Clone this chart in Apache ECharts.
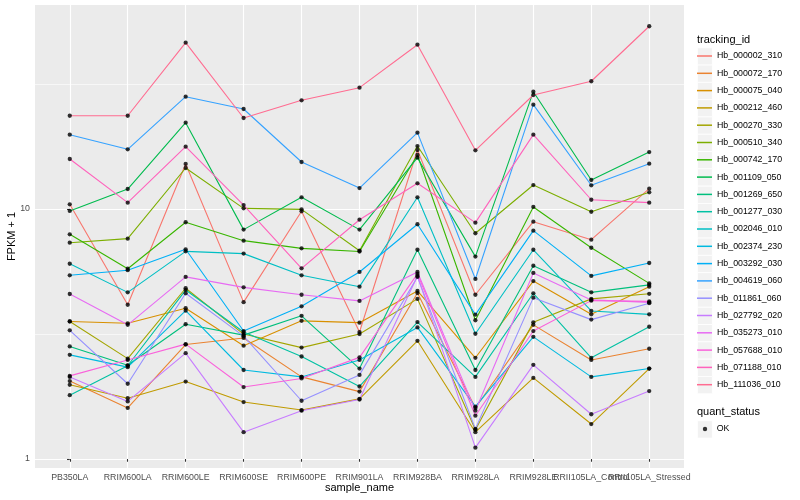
<!DOCTYPE html>
<html><head><meta charset="utf-8">
<script src="https://cdn.jsdelivr.net/npm/echarts@6/dist/echarts.min.js"></script>
<style>html,body{margin:0;padding:0;background:#fff}#c{width:800px;height:500px}</style>
</head><body><div id="c"></div>
<script>
// ---- data ----
const sampleNames = ['PB350LA','RRIM600LA','RRIM600LE','RRIM600SE','RRIM600PE','RRIM901LA','RRIM928BA','RRIM928LA','RRIM928LE','RRII105LA_Control','RRII105LA_Stressed'];
const yTickValues = [1, 10];
const yMinorValues = [3.1623, 31.623];
const trackingIds = ['Hb_000002_310','Hb_000072_170','Hb_000075_040','Hb_000212_460','Hb_000270_330','Hb_000510_340','Hb_000742_170','Hb_001109_050','Hb_001269_650','Hb_001277_030','Hb_002046_010','Hb_002374_230','Hb_003292_030','Hb_004619_060','Hb_011861_060','Hb_027792_020','Hb_035273_010','Hb_057688_010','Hb_071188_010','Hb_111036_010'];
const quantStatus = ['OK'];
// FPKM + 1 per sample (order of sampleNames)
const hb_000002_310 = [10.44, 4.14, 15.14, 4.24, 9.79, 3.22, 17.22, 4.54, 8.90, 7.54, 12.06];
const hb_000072_170 = [2.05, 1.60, 2.87, 3.05, 2.13, 1.86, 4.61, 1.60, 3.44, 2.49, 2.76];
const hb_000075_040 = [3.55, 3.49, 4.01, 2.84, 3.57, 3.51, 4.70, 2.54, 5.15, 3.79, 4.89];
const hb_000212_460 = [1.98, 1.75, 2.04, 1.69, 1.57, 1.74, 2.97, 1.28, 2.11, 1.38, 2.30];
const hb_000270_330 = [3.55, 2.52, 4.82, 3.16, 2.79, 3.16, 4.37, 1.31, 3.52, 4.37, 4.58];
const hb_000510_340 = [7.33, 7.61, 14.59, 10.06, 9.97, 6.81, 17.86, 8.00, 12.47, 9.75, 11.66];
const hb_000742_170 = [7.92, 5.77, 8.85, 7.47, 6.96, 6.76, 16.44, 3.59, 10.19, 7.00, 5.04];
const hb_001109_050 = [9.82, 12.02, 22.14, 8.27, 11.14, 8.27, 16.04, 6.45, 29.46, 13.06, 16.90];
const hb_001269_650 = [2.82, 2.37, 3.46, 3.13, 3.74, 2.30, 6.87, 2.27, 5.93, 4.64, 4.97];
const hb_001277_030 = [1.80, 2.36, 4.74, 3.22, 2.57, 1.95, 3.53, 2.13, 4.60, 2.54, 3.38];
const hb_002046_010 = [6.04, 4.64, 6.77, 6.63, 5.43, 4.89, 11.14, 3.17, 6.87, 3.91, 3.79];
const hb_002374_230 = [2.61, 2.33, 3.92, 2.27, 2.13, 2.49, 3.36, 1.62, 3.08, 2.13, 2.30];
const hb_003292_030 = [5.43, 5.69, 6.90, 3.25, 4.08, 5.60, 8.69, 3.78, 8.19, 5.40, 6.08];
const hb_004619_060 = [19.83, 17.33, 28.13, 25.12, 15.42, 12.13, 20.20, 5.25, 26.14, 12.44, 15.18];
const hb_011861_060 = [3.27, 2.00, 4.60, 3.10, 1.71, 2.17, 5.35, 1.32, 4.42, 3.61, 4.20];
const hb_027792_020 = [2.13, 1.70, 2.65, 1.28, 1.56, 1.73, 5.40, 1.11, 2.38, 1.51, 1.87];
const hb_035273_010 = [4.57, 3.44, 5.35, 4.86, 4.54, 4.29, 5.60, 1.56, 5.55, 4.33, 4.23];
const hb_057688_010 = [2.15, 2.49, 2.88, 1.94, 2.10, 2.55, 5.50, 1.49, 3.25, 4.30, 4.27];
const hb_071188_010 = [15.85, 10.60, 17.75, 10.37, 5.79, 9.06, 12.67, 8.82, 19.83, 10.89, 10.60];
const hb_111036_010 = [23.61, 23.61, 46.26, 23.12, 27.21, 30.57, 45.42, 17.17, 28.58, 32.43, 53.82];

// ---- styling ----
const palette = ['#F8766D','#EA8331','#D89000','#C09B00','#A3A500','#7CAE00','#39B600','#00BB4E','#00BF7D','#00C1A3','#00BFC4','#00BAE0','#00B0F6','#35A2FF','#9590FF','#C77CFF','#E76BF3','#FA62DB','#FF62BC','#FF6C91'];
const FONT = '"Liberation Sans", Arial, Helvetica, sans-serif';

const seriesValues = [hb_000002_310, hb_000072_170, hb_000075_040, hb_000212_460, hb_000270_330, hb_000510_340, hb_000742_170, hb_001109_050, hb_001269_650, hb_001277_030, hb_002046_010, hb_002374_230, hb_003292_030, hb_004619_060, hb_011861_060, hb_027792_020, hb_035273_010, hb_057688_010, hb_071188_010, hb_111036_010];

const log10 = v => Math.log10(v);
const catIdx = sampleNames.map((_, j) => j);
// labels split over two overlaid axes so that overlapping labels are all kept (as in the reference)
const labelIdxA = catIdx.filter(j => j !== 9);
const labelIdxB = [9];

const lineSeries = trackingIds.map((id, i) => ({
  name: id, type: 'line', animation: false, silent: true,
  showSymbol: false, symbol: 'none',
  data: seriesValues[i].map((v, j) => [j, log10(v)]),
  lineStyle: { width: 1.1, color: palette[i] },
  itemStyle: { color: palette[i] },
  emphasis: { disabled: true }, z: 2
}));
const pointData = [];
seriesValues.forEach(arr => arr.forEach((v, j) => pointData.push([j, log10(v)])));
const pointSeries = {
  name: quantStatus[0], type: 'scatter', animation: false, silent: true,
  symbol: 'circle', symbolSize: 4.3, itemStyle: { color: '#000000' },
  data: pointData, z: 3
};

const yMin = -0.036, yMax = 1.816;
const keyTop = 47.35, keyH = 17.3, keyW = 15, keyLeft = 697;
const graphics = [];
trackingIds.forEach((_, i) => graphics.push({
  type: 'rect', left: keyLeft, top: keyTop + i * keyH, z: -1,
  shape: { width: keyW, height: keyH }, style: { fill: '#F2F2F2', stroke: '#FFFFFF', lineWidth: 0.8 }
}));
graphics.push({ type: 'rect', left: keyLeft, top: 420.35, z: -1, shape: { width: keyW, height: keyH }, style: { fill: '#F2F2F2', stroke: '#FFFFFF', lineWidth: 0.8 } });
graphics.push({ type: 'text', x: 697, y: 40.4, style: { text: 'tracking_id', font: '11px ' + FONT, fill: '#000', textVerticalAlign: 'middle', verticalAlign: 'middle' } });
graphics.push({ type: 'text', x: 697, y: 411.5, style: { text: 'quant_status', font: '11px ' + FONT, fill: '#000', textVerticalAlign: 'middle', verticalAlign: 'middle' } });

const xLabelStyle = { margin: 5, color: '#4D4D4D', fontSize: 8.8, fontFamily: FONT,
  hideOverlap: false, showMinLabel: true, showMaxLabel: true,
  formatter: v => sampleNames[Math.round(v)] };

const chart = echarts.init(document.getElementById('c'), null, { renderer: 'canvas' });
chart.setOption({
  animation: false,
  backgroundColor: '#FFFFFF',
  textStyle: { fontFamily: FONT },
  grid: { left: 35, top: 5, width: 649, height: 463, show: true, backgroundColor: '#EBEBEB', borderWidth: 0,
    containLabel: false, outerBoundsMode: 'none' },
  xAxis: [{
    type: 'value', min: -0.6, max: 10.6, position: 'bottom',
    name: 'sample_name', nameLocation: 'middle', nameGap: 14.5, nameMoveOverlap: false,
    nameTextStyle: { color: '#000', fontSize: 11, fontFamily: FONT, verticalAlign: 'top' },
    axisLine: { show: false },
    axisTick: { show: true, customValues: catIdx, length: 2.75, lineStyle: { color: '#333333', width: 1.07 } },
    axisLabel: Object.assign({ customValues: labelIdxA }, xLabelStyle),
    splitLine: { show: true, lineStyle: { color: '#FFFFFF', width: 1.15 } }
  }, {
    type: 'value', min: -0.6, max: 10.6, position: 'bottom', offset: 0,
    axisLine: { show: false },
    axisTick: { show: false, customValues: labelIdxB },
    axisLabel: Object.assign({ customValues: labelIdxB }, xLabelStyle),
    splitLine: { show: false }
  }],
  yAxis: [{
    type: 'value', min: yMin, max: yMax,
    name: 'FPKM + 1', nameLocation: 'middle', nameGap: 18, nameRotate: 90, nameMoveOverlap: false,
    nameTextStyle: { color: '#000', fontSize: 11, fontFamily: FONT },
    axisLine: { show: false },
    axisTick: { show: true, customValues: yTickValues.map(log10), length: 2.75, lineStyle: { color: '#333333', width: 1.07 } },
    axisLabel: { customValues: yTickValues.map(log10), margin: 5, color: '#4D4D4D', fontSize: 8.8, fontFamily: FONT,
      hideOverlap: false, formatter: v => String(Math.round(Math.pow(10, v))) },
    splitLine: { show: true, lineStyle: { color: '#FFFFFF', width: 1.15 } }
  }, {
    type: 'value', min: yMin, max: yMax, position: 'left',
    axisLine: { show: false }, axisLabel: { show: false },
    axisTick: { show: false, customValues: yMinorValues.map(log10) },
    splitLine: { show: true, lineStyle: { color: '#FFFFFF', width: 0.6 } }
  }],
  legend: [{
    data: trackingIds, orient: 'vertical', left: keyLeft, top: keyTop, padding: 0,
    itemWidth: keyW, itemHeight: keyH, itemGap: 0, selectedMode: false,
    icon: 'path://M0,0h20v2h-20z',
    textStyle: { fontSize: 8.8, color: '#000', fontFamily: FONT, lineHeight: keyH }
  }, {
    data: quantStatus, orient: 'vertical', left: 702.8, top: 420.35, padding: 0,
    itemWidth: 4.4, itemHeight: 4.4, itemGap: 0, selectedMode: false, icon: 'circle',
    itemStyle: { color: '#000' },
    textStyle: { fontSize: 8.8, color: '#000', fontFamily: FONT, lineHeight: keyH, padding: [0, 0, 0, 4.5] }
  }],
  graphic: graphics,
  series: lineSeries.concat([pointSeries])
});
</script></body></html>
